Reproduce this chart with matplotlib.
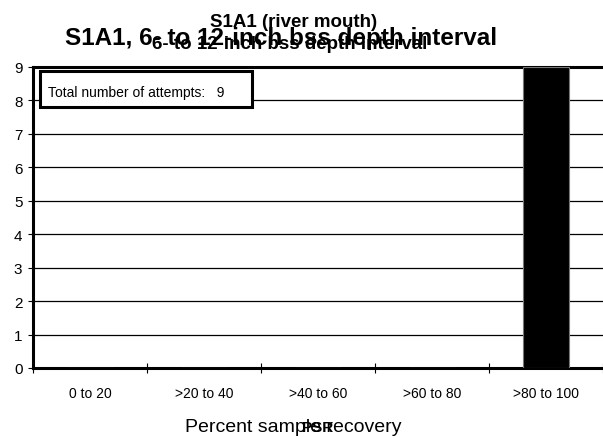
import matplotlib
matplotlib.use('Agg')
import matplotlib.pyplot as plt
from matplotlib.patches import Rectangle

plt.rcParams['font.family'] = ['Liberation Sans', 'DejaVu Sans']

# data
categories = ['0 to 20', '>20 to 40', '>40 to 60', '>60 to 80', '>80 to 100']
counts = [0, 0, 0, 0, 9]
total_attempts = 9

fig = plt.figure(figsize=(6.03, 4.39), dpi=100)
ax = fig.add_axes([33 / 603, 1 - 369 / 439, 1 - 33 / 603, (369 - 68) / 439])

xs = list(range(len(categories)))
ax.bar([x + 0.5 for x in xs], counts, width=0.41, color='black',
       edgecolor='#777777', linewidth=0.8, zorder=3)

ax.set_xlim(0, len(categories))
ax.set_ylim(0, 9)
ax.set_yticks(range(0, 10))
ax.set_xticks(range(0, len(categories) + 1))
ax.set_xticklabels([])
ax.set_xticks([x + 0.5 for x in xs], minor=True)
ax.set_xticklabels(categories, minor=True, fontsize=10)
ax.tick_params(axis='x', which='minor', length=0, pad=13)
ax.tick_params(axis='x', which='major', direction='inout', length=7, width=0.8)
ax.tick_params(axis='y', direction='out', length=3.6, width=0.8, labelsize=11, pad=4)

for y in range(1, 9):
    ax.axhline(y, color='black', linewidth=0.9, zorder=1)

for s in ['left', 'bottom', 'top']:
    ax.spines[s].set_linewidth(2.2)
ax.spines['right'].set_visible(False)

# text box
box = Rectangle((0.061, 7.80), 1.857, 1.08, transform=ax.transData, facecolor='white',
                edgecolor='black', linewidth=2.2, zorder=4)
ax.add_patch(box)
ax.text(0.13, 8.25, 'Total number of attempts:   %d' % total_attempts, fontsize=10,
        va='center', ha='left', zorder=5)

# overlapping titles
fig.text(281 / 603, 1 - 45 / 439, 'S1A1, 6- to 12-inch bss depth interval', fontsize=17.5,
         fontweight='bold', ha='center', va='baseline')
fig.text(294 / 603, 1 - 27 / 439, 'S1A1 (river mouth)',
         fontsize=13.5, fontweight='bold', ha='center', va='baseline')
fig.text(290 / 603, 1 - 49 / 439, '6- to 12-inch bss depth interval',
         fontsize=13.5, fontweight='bold', ha='center', va='baseline')

# overlapping axis labels
fig.text(293 / 603, 1 - 432 / 439, 'Percent sample recovery', fontsize=14,
         ha='center', va='baseline')
fig.text(318 / 603, 1 - 432 / 439, 'PSR', fontsize=11, fontweight='bold',
         ha='center', va='baseline')

fig.savefig('out.png', dpi=100)
